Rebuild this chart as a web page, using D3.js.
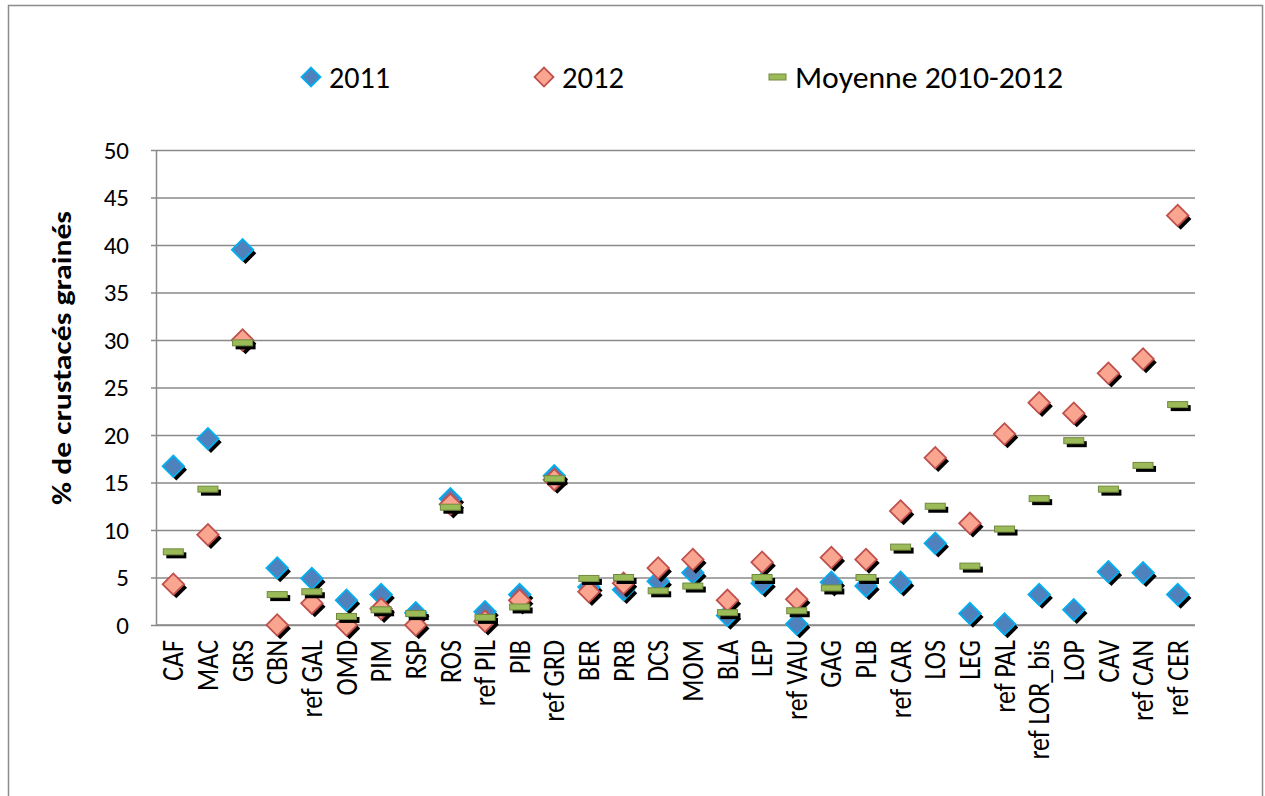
<!DOCTYPE html>
<html>
<head>
<meta charset="utf-8">
<script src="https://cdn.jsdelivr.net/npm/d3@7"></script>
<style>
  body { margin: 0; background: #fff; }
  text { font-family: Carlito, Calibri, Lato, "Liberation Sans", sans-serif; fill: #000; }
</style>
</head>
<body>
<svg id="chart" width="1265" height="796"></svg>
<script>
// stations, in display order
var sites = ["CAF", "MAC", "GRS", "CBN", "ref GAL", "OMD", "PIM", "RSP", "ROS", "ref PIL",
  "PIB", "ref GRD", "BER", "PRB", "DCS", "MOM", "BLA", "LEP", "ref VAU", "GAG",
  "PLB", "ref CAR", "LOS", "LEG", "ref PAL", "ref LOR_bis", "LOP", "CAV", "ref CAN", "ref CER"];

var val2011 = [16.7, 19.6, 39.5, 6.0, 4.9, 2.6, 3.2, 1.3, 13.3, 1.4,
  3.2, 15.7, 4.0, 3.7, 4.6, 5.5, 1.0, 4.4, 0.1, 4.5,
  4.1, 4.5, 8.6, 1.2, 0.1, 3.2, 1.6, 5.6, 5.5, 3.2];

var val2012 = [4.3, 9.5, 30.0, 0.0, 2.3, 0.0, 1.7, 0.0, 12.7, 0.4,
  2.6, 15.3, 3.5, 4.4, 6.0, 6.9, 2.6, 6.6, 2.7, 7.1,
  6.9, 12.0, 17.6, 10.7, 20.1, 23.4, 22.3, 26.5, 28.0, 43.1];

var valMean = [7.7, 14.3, 29.7, 3.2, 3.5, 0.9, 1.6, 1.2, 12.4, 0.8,
  1.9, 15.4, 4.9, 5.0, 3.6, 4.1, 1.3, 5.0, 1.5, 3.9,
  5.0, 8.2, 12.5, 6.2, 10.1, 13.3, 19.4, 14.3, 16.8, 23.2];

var yTicks = [0, 5, 10, 15, 20, 25, 30, 35, 40, 45, 50];

var svg = d3.select("#chart"),
    width = +svg.attr("width"),
    height = +svg.attr("height");

var plotLeft = 156, plotRight = 1195, plotTop = 150, plotBottom = 625;

// outer frame
svg.append("rect")
    .attr("x", 8.5).attr("y", 5.5)
    .attr("width", 1254).attr("height", 800)
    .attr("fill", "none")
    .attr("stroke", "#8c8c8c")
    .attr("stroke-width", 1.5);

var x = d3.scaleBand().domain(sites).range([plotLeft, plotRight]).padding(0);
var y = d3.scaleLinear().domain([0, 50]).range([plotBottom, plotTop]);

function cx(i) { return x(sites[i]) + x.bandwidth() / 2; }

// gridlines
svg.append("g")
    .attr("transform", "translate(" + plotLeft + ",0)")
    .call(d3.axisLeft(y).tickValues(yTicks).tickSize(-(plotRight - plotLeft)).tickFormat(""))
    .call(function(g) {
        g.select(".domain").remove();
        g.selectAll("line").attr("stroke", "#8a8a8a").attr("stroke-width", 1.5);
    });

// y axis with labels
svg.append("g")
    .attr("transform", "translate(" + plotLeft + ",0)")
    .call(d3.axisLeft(y).tickValues(yTicks).tickSize(5).tickSizeOuter(0).tickPadding(22))
    .call(function(g) {
        g.select(".domain").attr("stroke", "#8a8a8a").attr("stroke-width", 1.5);
        g.selectAll("line").attr("stroke", "#8a8a8a").attr("stroke-width", 1.5);
        g.selectAll("text").attr("font-size", 25).attr("fill", "#000")
            .style("font-family", "Carlito, Calibri, Lato, sans-serif");
    });

// x axis line
svg.append("line")
    .attr("x1", plotLeft).attr("x2", plotRight)
    .attr("y1", plotBottom).attr("y2", plotBottom)
    .attr("stroke", "#8a8a8a").attr("stroke-width", 1.5);

// category labels, rotated
svg.append("g").selectAll("text")
    .data(sites)
    .enter().append("text")
    .attr("transform", function(d, i) {
        return "translate(" + cx(i) + "," + (plotBottom + 15) + ") scale(1.18,1) rotate(-90)";
    })
    .attr("text-anchor", "end")
    .attr("dy", "0.33em")
    .attr("font-size", 26)
    .text(function(d) { return d; });

// y title
svg.append("text")
    .attr("transform", "translate(62,358) rotate(-90)")
    .attr("text-anchor", "middle")
    .attr("dy", "0.35em")
    .attr("font-size", 27)
    .attr("font-weight", "bold")
    .attr("textLength", 294)
    .attr("lengthAdjust", "spacingAndGlyphs")
    .text("% de crustacés grainés");

var diamond = d3.symbol().type(d3.symbolSquare).size(230);

function drawDiamonds(values, fill, stroke) {
    var g = svg.append("g");
    g.selectAll("path.shadow")
        .data(values)
        .enter().append("path")
        .attr("class", "shadow")
        .attr("d", diamond)
        .attr("transform", function(d, i) { return "translate(" + (cx(i) + 3) + "," + (y(d) + 3.5) + ") rotate(45)"; })
        .attr("fill", "#000");
    g.selectAll("path.mark")
        .data(values)
        .enter().append("path")
        .attr("class", "mark")
        .attr("d", diamond)
        .attr("transform", function(d, i) { return "translate(" + cx(i) + "," + y(d) + ") rotate(45)"; })
        .attr("fill", fill)
        .attr("stroke", stroke)
        .attr("stroke-width", 1.8);
}

function drawDashes(values) {
    var g = svg.append("g");
    g.selectAll("rect.shadow")
        .data(values)
        .enter().append("rect")
        .attr("class", "shadow")
        .attr("x", function(d, i) { return cx(i) - 10 + 3; })
        .attr("y", function(d) { return y(d) - 3 + 3.5; })
        .attr("width", 20).attr("height", 6)
        .attr("fill", "#000");
    g.selectAll("rect.mark")
        .data(values)
        .enter().append("rect")
        .attr("class", "mark")
        .attr("x", function(d, i) { return cx(i) - 10; })
        .attr("y", function(d) { return y(d) - 3; })
        .attr("width", 20).attr("height", 6)
        .attr("fill", "#9bbb59")
        .attr("stroke", "#71893f")
        .attr("stroke-width", 1);
}

drawDiamonds(val2011, "#4f81bd", "#00b0f0");
drawDiamonds(val2012, "#f9a590", "#c0504d");
drawDashes(valMean);

// legend
var legendY = 77;
var legend = svg.append("g");
legend.append("path")
    .attr("d", d3.symbol().type(d3.symbolSquare).size(180))
    .attr("transform", "translate(311," + legendY + ") rotate(45)")
    .attr("fill", "#4f81bd").attr("stroke", "#00b0f0").attr("stroke-width", 1.8);
legend.append("path")
    .attr("d", d3.symbol().type(d3.symbolSquare).size(180))
    .attr("transform", "translate(544," + legendY + ") rotate(45)")
    .attr("fill", "#f9a590").attr("stroke", "#c0504d").attr("stroke-width", 1.8);
legend.append("rect")
    .attr("x", 769).attr("y", legendY - 3)
    .attr("width", 17).attr("height", 6)
    .attr("fill", "#9bbb59").attr("stroke", "#71893f").attr("stroke-width", 1);

var legendItems = [
    { text: "2011", x: 329, len: 61 },
    { text: "2012", x: 562, len: 62 },
    { text: "Moyenne 2010-2012", x: 795, len: 268 }
];
legend.selectAll("text")
    .data(legendItems)
    .enter().append("text")
    .attr("x", function(d) { return d.x; })
    .attr("y", legendY)
    .attr("dy", "0.35em")
    .attr("font-size", 30)
    .attr("textLength", function(d) { return d.len; })
    .attr("lengthAdjust", "spacingAndGlyphs")
    .text(function(d) { return d.text; });
</script>
</body>
</html>
